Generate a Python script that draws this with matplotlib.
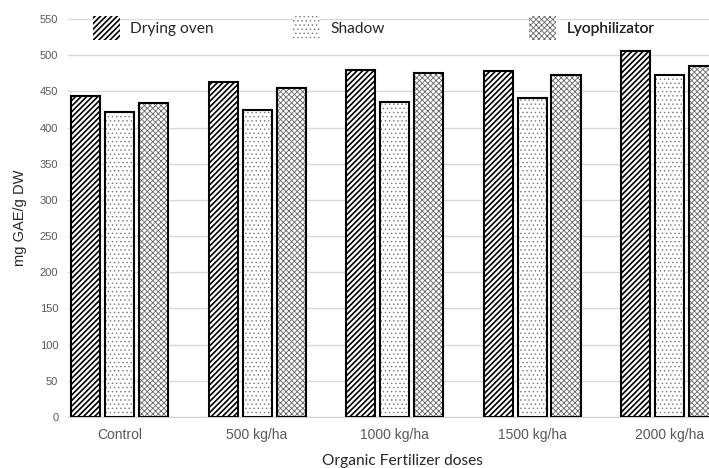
import numpy as np
import matplotlib
matplotlib.use("Agg")
import matplotlib.pyplot as plt
from matplotlib.patches import Patch

categories = ["Control", "500 kg/ha", "1000 kg/ha", "1500 kg/ha", "2000 kg/ha"]
series_names = ["Drying oven", "Shadow", "Lyophilizator"]
drying_oven = [444, 463, 479, 478, 506]
shadow = [421, 424, 435, 441, 473]
lyophilizator = [434, 455, 475, 473, 485]
y_ticks = list(range(0, 551, 50))

hatches = ["//////", "....", "xxxxxx"]
hatch_colors = ["black", "#777777", "#666666"]
hatch_lws = [1.2, 0.5, 0.6]

fig = plt.figure(figsize=(7.09, 4.68), dpi=100)
ax = fig.add_axes([68/709, 51/468, 641/709, 398/468])

x = np.arange(len(categories))
bar_w = 0.211
step = 0.247
for k, vals in enumerate([drying_oven, shadow, lyophilizator]):
    plt.rcParams["hatch.linewidth"] = hatch_lws[k]
    # hatch fill first, then a black outline on top
    ax.bar(x + (k - 1) * step, vals, width=bar_w, color="white",
           edgecolor=hatch_colors[k], linewidth=0, hatch=hatches[k], zorder=3)
    ax.bar(x + (k - 1) * step, vals, width=bar_w, fill=False,
           edgecolor="black", linewidth=1.5, zorder=4)

ax.set_xlim(-0.375, 4.287)
ax.set_ylim(0, 550)
ax.set_yticks(y_ticks)
ax.set_xticks(x)
ax.set_xticklabels(categories)
ax.grid(axis="y", color="#d9d9d9", linewidth=1.0, zorder=0)
for s in ["top", "right", "left"]:
    ax.spines[s].set_visible(False)
ax.spines["bottom"].set_color("#d0d0d0")
ax.tick_params(axis="both", length=0, colors="#595959")
ax.tick_params(axis="y", pad=7, labelsize=8)
ax.tick_params(axis="x", pad=8, labelsize=10)
for lab in ax.get_xticklabels() + ax.get_yticklabels():
    lab.set_fontfamily("Liberation Sans")

ax.set_ylabel("mg GAE/g DW", fontsize=10.5, family="Liberation Sans",
              color="#262626", labelpad=9)
ax.set_xlabel("Organic Fertilizer doses", fontsize=11.2, family="Lato",
              color="#262626")
ax.xaxis.set_label_coords(0.521, -0.092)

# legend entries spread across the top, like the original
legend_x = [93, 293, 529]
for k, name in enumerate(series_names):
    plt.rcParams["hatch.linewidth"] = hatch_lws[k]
    h = Patch(facecolor="white", edgecolor=hatch_colors[k], linewidth=0,
              hatch=hatches[k])
    leg = ax.legend(handles=[h], labels=[name], loc="center left",
                    bbox_to_anchor=(legend_x[k] / 709, 1 - 28 / 468),
                    bbox_transform=fig.transFigure, frameon=False,
                    borderpad=0, borderaxespad=0, handlelength=1.75,
                    handleheight=1.95, handletextpad=0.65,
                    prop={"family": "Lato", "size": 11.2})
    for t in leg.get_texts():
        t.set_color("#262626")
    ax.add_artist(leg)

fig.savefig("out.png", dpi=100)
